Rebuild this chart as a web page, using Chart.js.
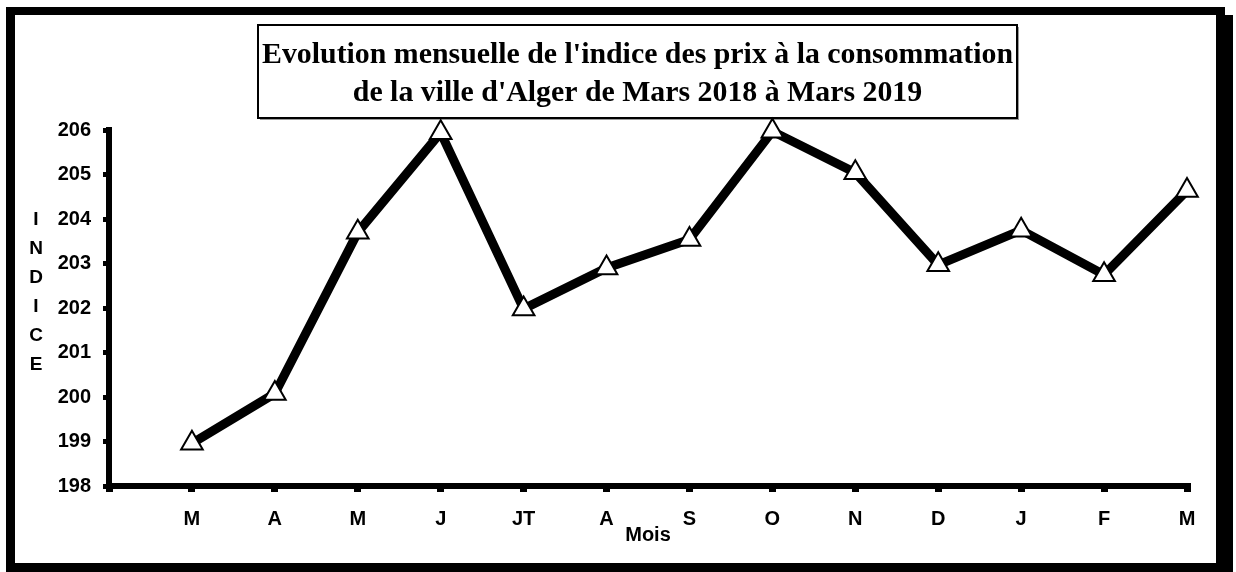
<!DOCTYPE html>
<html>
<head>
<meta charset="utf-8">
<script src="https://cdn.jsdelivr.net/npm/chart.js@4/dist/chart.umd.min.js"></script>
<style>
  html, body { margin: 0; padding: 0; background: #fff; }
  #wrap { width: 1236px; height: 572px; }
</style>
</head>
<body>
<div id="wrap"><canvas id="c" width="1236" height="572"></canvas></div>
<script>
// ---- data ----
const categories = ['', 'M', 'A', 'M', 'J', 'JT', 'A', 'S', 'O', 'N', 'D', 'J', 'F', 'M'];
const indiceValues = [null, 198.96, 200.08, 203.7, 205.94, 201.98, 202.90, 203.54, 205.97, 205.04, 202.97, 203.75, 202.75, 204.64];
const yMin = 198;
const yMax = 206;
const titleLines = ["Evolution mensuelle de l'indice des prix à la consommation", "de la ville d'Alger de Mars 2018 à Mars 2019"];
const xAxisTitle = 'Mois';
const yAxisTitleLetters = ['I', 'N', 'D', 'I', 'C', 'E'];

const SANS = '"Liberation Sans", Arial, sans-serif';
const SERIF = '"Liberation Serif", "Times New Roman", serif';

const decorPlugin = {
  id: 'decor',
  beforeDraw(chart) {
    const ctx = chart.ctx;
    ctx.save();
    ctx.fillStyle = '#fff';
    ctx.fillRect(0, 0, chart.width, chart.height);
    // outer frame with shadow
    ctx.fillStyle = '#000';
    ctx.fillRect(6, 7, 1219, 8);
    ctx.fillRect(6, 7, 9, 565);
    ctx.fillRect(1216, 15, 17, 557);
    ctx.fillRect(6, 563, 1227, 9);
    // title box
    ctx.fillStyle = '#9a9a9a';
    ctx.fillRect(260, 118, 759, 2);
    ctx.fillRect(1017, 27, 2, 93);
    ctx.strokeStyle = '#000';
    ctx.lineWidth = 2;
    ctx.strokeRect(258, 25, 759, 93);
    // title text (horizontally condensed)
    ctx.fillStyle = '#000';
    ctx.font = 'bold 30px ' + SERIF;
    ctx.textAlign = 'center';
    ctx.textBaseline = 'alphabetic';
    const w1 = ctx.measureText(titleLines[0]).width;
    const s = 751 / w1;
    const cx = 637.5;
    const baselines = [63, 101];
    titleLines.forEach((t, i) => {
      ctx.save();
      ctx.translate(cx, baselines[i]);
      ctx.scale(s, 1);
      ctx.fillText(t, 0, 0);
      ctx.restore();
    });
    ctx.restore();
  },
  afterDraw(chart) {
    const ctx = chart.ctx;
    ctx.save();
    ctx.fillStyle = '#000';
    ctx.font = 'bold 19px ' + SANS;
    ctx.textAlign = 'center';
    ctx.textBaseline = 'middle';
    const startY = 220, step = 29;
    yAxisTitleLetters.forEach((l, i) => {
      ctx.fillText(l, 36, startY + i * step);
    });
    ctx.restore();
  }
};

new Chart(document.getElementById('c'), {
  type: 'line',
  data: {
    labels: categories,
    datasets: [{
      data: indiceValues,
      borderColor: '#000',
      borderWidth: 9,
      backgroundColor: '#fff',
      pointStyle: 'triangle',
      pointRadius: 12.5,
      pointHoverRadius: 12.5,
      pointBorderWidth: 2,
      pointBackgroundColor: '#fff',
      pointBorderColor: '#000',
      tension: 0,
      fill: false,
      clip: false,
      spanGaps: false
    }]
  },
  options: {
    responsive: false,
    animation: false,
    events: [],
    layout: { padding: { left: 0, right: 49, top: 130, bottom: 0 } },
    plugins: {
      legend: { display: false },
      title: { display: false },
      tooltip: { enabled: false }
    },
    scales: {
      x: {
        type: 'category',
        offset: false,
        afterFit(scale) { scale.height = 86; },
        grid: { display: true, drawOnChartArea: false, drawTicks: true, tickLength: 6, color: '#000', lineWidth: 7 },
        border: { display: true, color: '#000', width: 6 },
        ticks: {
          color: '#000',
          font: { family: SANS, size: 20, weight: 'bold' },
          padding: 15,
          autoSkip: false,
          maxRotation: 0
        },
        title: {
          display: true,
          text: xAxisTitle,
          color: '#000',
          font: { family: SANS, size: 20, weight: 'bold' },
          padding: { top: 0, bottom: 25 }
        }
      },
      y: {
        min: yMin,
        max: yMax,
        afterFit(scale) { scale.width = 109; },
        grid: { display: true, drawOnChartArea: false, drawTicks: true, tickLength: 6, color: '#000', lineWidth: 5 },
        border: { display: true, color: '#000', width: 6 },
        ticks: {
          stepSize: 1,
          color: '#000',
          font: { family: SANS, size: 20, weight: 'bold' },
          padding: 12
        }
      }
    }
  },
  plugins: [decorPlugin]
});
</script>
</body>
</html>
